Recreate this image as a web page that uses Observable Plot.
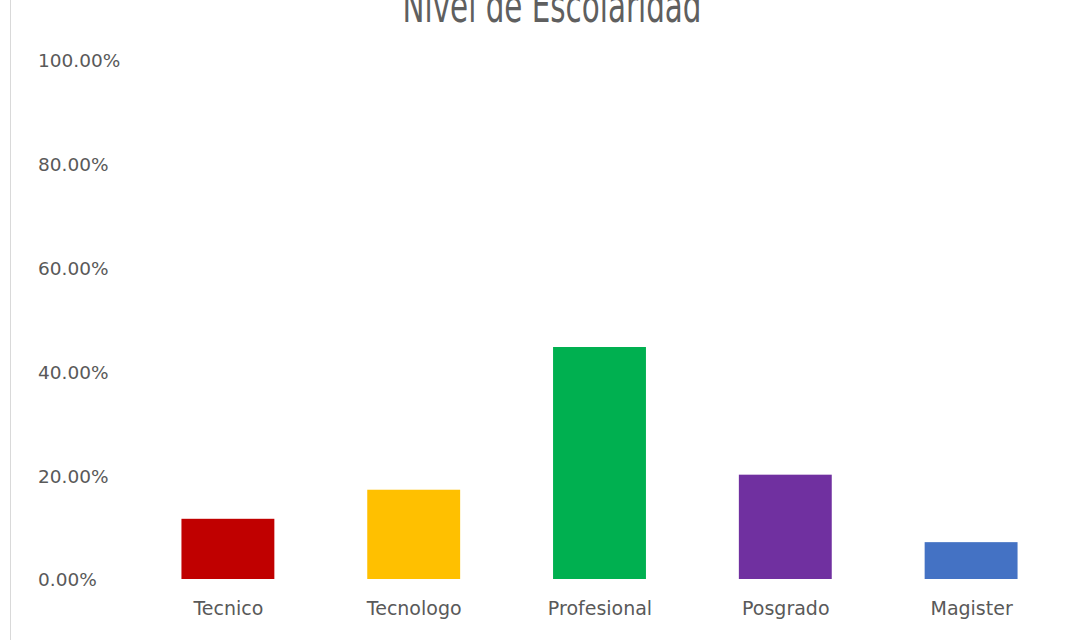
<!DOCTYPE html>
<html>
<head>
<meta charset="utf-8">
<script src="https://cdn.jsdelivr.net/npm/d3@7"></script>
<script src="https://cdn.jsdelivr.net/npm/@observablehq/plot@0.6"></script>
<style>
  html, body { margin: 0; padding: 0; background: #ffffff; }
  #wrap { position: relative; width: 1073px; height: 640px; overflow: hidden; background: #fff; }
  #border { position: absolute; left: 10px; top: 0; width: 1px; height: 640px; background: #d9d9d9; }
  #title { height: 28px; overflow: hidden; text-align: center; padding-left: 31px; box-sizing: border-box; width: 1073px; }
  #title span { position: relative; top: -5px; display: inline-block; font-family: "DejaVu Sans Condensed", "DejaVu Sans", sans-serif; font-size: 33px; line-height: 32px; color: #5f5f5f; transform: scale(0.99, 1.4); transform-origin: 50% 27.4px; }
</style>
</head>
<body>
<div id="wrap">
  <div id="border"></div>
  <div id="title"><span>Nivel de Escolaridad</span></div>
  <div id="chart"></div>
</div>
<script>
const categories = ["Tecnico", "Tecnologo", "Profesional", "Posgrado", "Magister"];
const values = [0.116, 0.172, 0.447, 0.201, 0.071];
const colors = ["#C00000", "#FFC000", "#00B050", "#7030A0", "#4472C4"];
const yTicks = [0, 0.2, 0.4, 0.6, 0.8, 1.0];

const data = categories.map((c, i) => ({ category: c, value: values[i] }));

const chart = Plot.plot({
  width: 1073,
  height: 612,
  marginTop: 32,
  marginBottom: 61,
  marginLeft: 135,
  marginRight: 9,
  style: { fontFamily: "DejaVu Sans, sans-serif", color: "#595959", background: "transparent" },
  x: { domain: categories, paddingInner: 0.5, paddingOuter: 0.25, round: false, label: null },
  y: { domain: [0, 1], label: null },
  color: { domain: categories, range: colors },
  marks: [
    Plot.barY(data, { x: "category", y: "value", fill: "category" }),
    Plot.axisY({
      ticks: yTicks,
      tickFormat: d3.format(".2%"),
      tickSize: 0,
      tickPadding: 0,
      textAnchor: "start",
      dx: -97.5,
      dy: 1,
      fontSize: 18.5,
      fill: "#595959",
      label: null
    }),
    Plot.axisX({
      tickSize: 0,
      tickPadding: 22,
      fontSize: 19,
      fill: "#595959",
      label: null
    })
  ]
});
document.getElementById("chart").appendChild(chart);
</script>
</body>
</html>
